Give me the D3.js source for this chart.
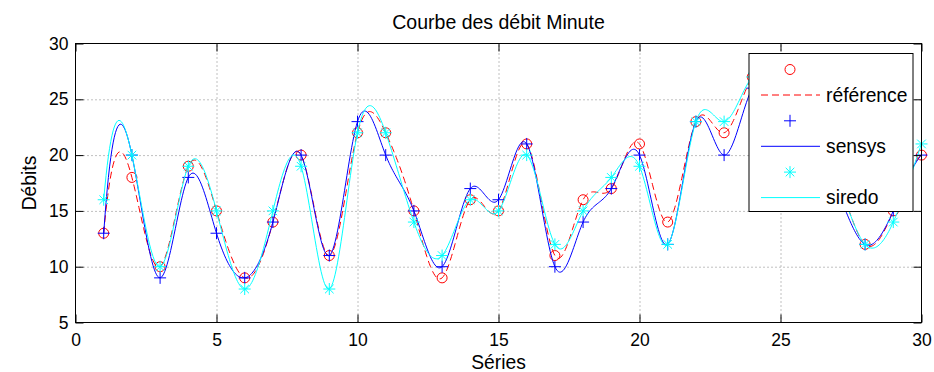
<!DOCTYPE html>
<html>
<head>
<meta charset="utf-8">
<title>Courbe des débit Minute</title>
<script src="https://d3js.org/d3.v7.min.js"></script>
<style>
  body { margin: 0; background: #fff; }
  text { font-family: "Liberation Sans", Arial, Helvetica, sans-serif; fill: #000; }
</style>
</head>
<body>
<svg width="934" height="372"></svg>
<script>
// data (points 24-27 sit behind the legend, guessed)
const series = d3.range(1, 31)
const reference = [13, 18, 10, 19, 15, 9, 14, 20, 11, 22, 22, 15, 9, 16, 15, 21, 11, 16, 17, 21, 14, 23, 22, 27, 26, 22, 18, 12, 15, 20]
const sensys    = [13, 20, 9, 18, 13, 9, 14, 20, 11, 23, 20, 15, 10, 17, 16, 21, 10, 14, 17, 20, 12, 23, 20, 26, 25, 22, 17, 12, 15, 20]
const siredo    = [16, 20, 10, 19, 15, 8, 15, 19, 8, 22, 22, 14, 11, 16, 15, 20, 12, 15, 18, 19, 12, 23, 23, 27, 26, 23, 18, 12, 14, 21]
const xTicks = [0, 5, 10, 15, 20, 25, 30]
const yTicks = [5, 10, 15, 20, 25, 30]
const legendNames = ["référence", "sensys", "siredo"]

const pLeft = 75.5, pRight = 921.5, pTop = 43.5, pBottom = 322.5
var x = d3.scaleLinear().domain([0, 30]).range([pLeft, pRight])
var y = d3.scaleLinear().domain([5, 30]).range([pBottom, pTop])

// cubic spline with not-a-knot ends, like matlab's spline()
function spline(xs, ys, steps) {
  const n = xs.length, h = xs[1] - xs[0]
  const A = [], b = []
  for (let i = 0; i < n; i++) { A.push(new Array(n).fill(0)); b.push(0) }
  A[0][0] = 1; A[0][1] = -2; A[0][2] = 1
  for (let i = 1; i < n - 1; i++) {
    A[i][i - 1] = 1; A[i][i] = 4; A[i][i + 1] = 1
    b[i] = 6 / (h * h) * (ys[i - 1] - 2 * ys[i] + ys[i + 1])
  }
  A[n - 1][n - 3] = 1; A[n - 1][n - 2] = -2; A[n - 1][n - 1] = 1
  // gauss elimination
  for (let c = 0; c < n; c++) {
    let p = c
    for (let r = c + 1; r < n; r++) if (Math.abs(A[r][c]) > Math.abs(A[p][c])) p = r
    let t = A[c]; A[c] = A[p]; A[p] = t
    let tb = b[c]; b[c] = b[p]; b[p] = tb
    for (let r = c + 1; r < n; r++) {
      const f = A[r][c] / A[c][c]
      if (f === 0) continue
      for (let k = c; k < n; k++) A[r][k] -= f * A[c][k]
      b[r] -= f * b[c]
    }
  }
  const M = new Array(n).fill(0)
  for (let r = n - 1; r >= 0; r--) {
    let s = b[r]
    for (let k = r + 1; k < n; k++) s -= A[r][k] * M[k]
    M[r] = s / A[r][r]
  }
  const pts = []
  for (let i = 0; i < n - 1; i++) {
    for (let j = 0; j < steps; j++) {
      const t = j / steps, u = 1 - t
      const v = u * ys[i] + t * ys[i + 1] + h * h / 6 * ((u * u * u - u) * M[i] + (t * t * t - t) * M[i + 1])
      pts.push([xs[i] + t * h, v])
    }
  }
  pts.push([xs[n - 1], ys[n - 1]])
  return pts
}

const svg = d3.select("svg")

// grid
svg.append("g")
  .attr("transform", "translate(0," + pBottom + ")")
  .call(d3.axisBottom(x).tickValues(xTicks.slice(1, -1)).tickSize(-(pBottom - pTop)).tickFormat(""))
  .call(g => g.select(".domain").remove())
  .selectAll("line").attr("stroke", "#808080").attr("stroke-dasharray", "1,3")
svg.append("g")
  .attr("transform", "translate(" + pLeft + ",0)")
  .call(d3.axisLeft(y).tickValues(yTicks.slice(1, -1)).tickSize(-(pRight - pLeft)).tickFormat(""))
  .call(g => g.select(".domain").remove())
  .selectAll("line").attr("stroke", "#808080").attr("stroke-dasharray", "1,3")

const line = d3.line().x(d => x(d[0])).y(d => y(d[1]))

function drawSeries(vals, color, marker, dash) {
  svg.append("g").selectAll("path").data(vals).enter().append("path")
    .attr("transform", (d, i) => "translate(" + x(series[i]) + "," + y(d) + ")")
    .attr("d", marker)
    .attr("fill", "none")
    .attr("stroke", color)
    .attr("stroke-width", 1)
  svg.append("path")
    .datum(spline(series, vals, 24))
    .attr("d", line)
    .attr("fill", "none")
    .attr("stroke", color)
    .attr("stroke-width", 1)
    .attr("stroke-dasharray", dash)
}

const circleMark = "M5,0A5,5 0 1,1 -5,0A5,5 0 1,1 5,0"
const plusMark = "M-6,0H6M0,-6V6"
const starMark = "M-6,0H6M0,-6V6M-4.3,-4.3L4.3,4.3M-4.3,4.3L4.3,-4.3"

drawSeries(reference, "#ff0000", circleMark, "7,4")
drawSeries(sensys, "#0000ff", plusMark, null)
drawSeries(siredo, "#00ffff", starMark, null)

// axes box with inward ticks
function styleAxis(g) {
  g.select(".domain").remove()
  g.selectAll("line").attr("stroke", "#000")
  g.selectAll("text").style("font-size", "17.5px").attr("fill", "#000")
}
svg.append("g")
  .attr("transform", "translate(0," + pBottom + ")")
  .call(d3.axisBottom(x).tickValues(xTicks).tickSizeInner(-8).tickSizeOuter(0).tickPadding(11))
  .call(styleAxis)
svg.append("g")
  .attr("transform", "translate(0," + pTop + ")")
  .call(d3.axisTop(x).tickValues(xTicks).tickSizeInner(-8).tickSizeOuter(0).tickFormat(""))
  .call(styleAxis)
svg.append("g")
  .attr("transform", "translate(" + pLeft + ",0)")
  .call(d3.axisLeft(y).tickValues(yTicks).tickSizeInner(-8).tickSizeOuter(0).tickPadding(7))
  .call(styleAxis)
svg.append("g")
  .attr("transform", "translate(" + pRight + ",0)")
  .call(d3.axisRight(y).tickValues(yTicks).tickSizeInner(-8).tickSizeOuter(0).tickFormat(""))
  .call(styleAxis)
svg.append("rect")
  .attr("x", pLeft).attr("y", pTop)
  .attr("width", pRight - pLeft).attr("height", pBottom - pTop)
  .attr("fill", "none").attr("stroke", "#000")

// titles
svg.append("text")
  .attr("x", (pLeft + pRight) / 2).attr("y", 29)
  .attr("text-anchor", "middle")
  .style("font-size", "19.5px")
  .text("Courbe des débit Minute")
svg.append("text")
  .attr("x", (pLeft + pRight) / 2).attr("y", 369)
  .attr("text-anchor", "middle")
  .style("font-size", "19.3px")
  .text("Séries")
svg.append("text")
  .attr("transform", "translate(36," + (pTop + pBottom) / 2 + ") rotate(-90)")
  .attr("text-anchor", "middle")
  .style("font-size", "19.3px")
  .text("Débits")

// legend
const colors = ["#ff0000", "#0000ff", "#00ffff"]
const marks = [circleMark, plusMark, starMark]
const dashes = ["7,4", null, null]
const lg = svg.append("g").attr("transform", "translate(749,53.5)")
lg.append("rect")
  .attr("width", 164).attr("height", 158)
  .attr("fill", "#fff").attr("stroke", "#000")
legendNames.forEach(function (name, i) {
  const row = lg.append("g").attr("transform", "translate(0," + (i * 51.3) + ")")
  row.append("path")
    .attr("transform", "translate(41,16)")
    .attr("d", marks[i]).attr("fill", "none").attr("stroke", colors[i])
  row.append("line")
    .attr("x1", 12).attr("x2", 71).attr("y1", 41.5).attr("y2", 41.5)
    .attr("stroke", colors[i]).attr("stroke-dasharray", dashes[i])
  row.append("text")
    .attr("x", 77).attr("y", 48)
    .style("font-size", "19.3px")
    .text(name)
})
</script>
</body>
</html>
